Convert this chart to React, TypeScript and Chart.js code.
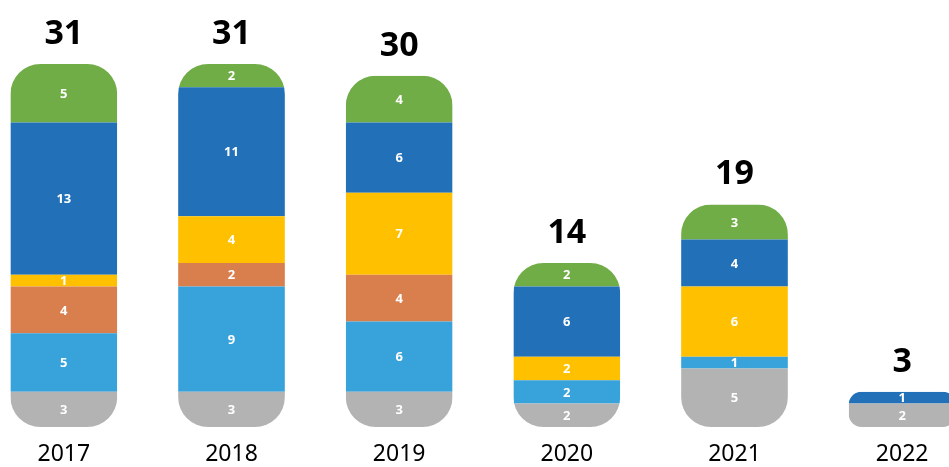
import React, { useEffect, useRef } from "react";
import { Chart, registerables } from "chart.js";

Chart.register(...registerables);

const categories = ["2017", "2018", "2019", "2020", "2021", "2022"];
const gray = [3, 3, 3, 2, 5, 2];
const lightBlue = [5, 9, 6, 2, 1, 0];
const orange = [4, 2, 4, 0, 0, 0];
const yellow = [1, 4, 7, 2, 6, 0];
const blue = [13, 11, 6, 6, 4, 1];
const green = [5, 2, 4, 2, 3, 0];

const seriesList = [gray, lightBlue, orange, yellow, blue, green];
const colors = ["#B3B3B3", "#38A2DA", "#D97F4E", "#FFC000", "#2271B8", "#70AD47"];

const totals = categories.map((_, i) => seriesList.reduce((s, arr) => s + arr[i], 0));

const stackPlugin = {
  id: "stackRound",
  beforeDatasetsDraw(chart: any) {
    const ctx = chart.ctx;
    const y = chart.scales.y;
    const meta = chart.getDatasetMeta(0);
    ctx.save();
    ctx.beginPath();
    meta.data.forEach((el: any, i: number) => {
      const w = el.width;
      const left = el.x - w / 2;
      const top = y.getPixelForValue(totals[i]);
      const bottom = y.getPixelForValue(0);
      const h = bottom - top;
      const r = Math.min(30, h * 0.36);
      ctx.roundRect(left, top, w, h, r);
    });
    ctx.clip();
  },
  afterDatasetsDraw(chart: any) {
    const ctx = chart.ctx;
    ctx.restore();
    const y = chart.scales.y;
    ctx.save();
    ctx.textAlign = "center";
    ctx.textBaseline = "middle";
    ctx.fillStyle = "#ffffff";
    ctx.font = "bold 13px 'Noto Sans'";
    chart.data.datasets.forEach((ds: any, di: number) => {
      const m = chart.getDatasetMeta(di);
      m.data.forEach((el: any, i: number) => {
        const v = ds.data[i];
        if (!v) return;
        ctx.fillText(String(v), el.x, (el.y + el.base) / 2 + 1);
      });
    });
    ctx.fillStyle = "#000000";
    ctx.font = "bold 34px 'Noto Sans'";
    ctx.textBaseline = "alphabetic";
    const m0 = chart.getDatasetMeta(0);
    m0.data.forEach((el: any, i: number) => {
      const top = y.getPixelForValue(totals[i]);
      ctx.fillText(String(totals[i]), el.x, top - 20);
    });
    ctx.restore();
  },
};

export default function App() {
  const ref = useRef<HTMLCanvasElement>(null);
  useEffect(() => {
    if (!ref.current) return;
    const chart = new Chart(ref.current, {
      type: "bar",
      data: {
        labels: categories,
        datasets: seriesList.map((d, i) => ({
          data: d,
          backgroundColor: colors[i],
          borderWidth: 0,
          barPercentage: 0.637,
          categoryPercentage: 1,
        })),
      },
      options: {
        animation: false,
        responsive: true,
        maintainAspectRatio: false,
        layout: { padding: 0 },
        plugins: { legend: { display: false }, tooltip: { enabled: false } },
        scales: {
          x: {
            stacked: true,
            grid: { display: false, drawTicks: false },
            border: { display: false },
            ticks: {
              color: "#000000",
              font: { family: "'Noto Sans'", size: 23 },
              padding: 14,
              maxRotation: 0,
            },
            afterFit: (s: any) => {
              s.height = 40;
            },
          },
          y: {
            stacked: true,
            display: false,
            min: 0,
            max: 36.46,
          },
        },
      },
      plugins: [stackPlugin],
    });
    return () => chart.destroy();
  }, []);
  return (
    <div style={{ position: "fixed", left: 0, top: 0, width: 949, height: 467, overflow: "hidden", background: "#fff" }}>
      <div style={{ position: "absolute", left: -20, top: 0, width: 1006, height: 467 }}>
        <canvas ref={ref} />
      </div>
    </div>
  );
}
